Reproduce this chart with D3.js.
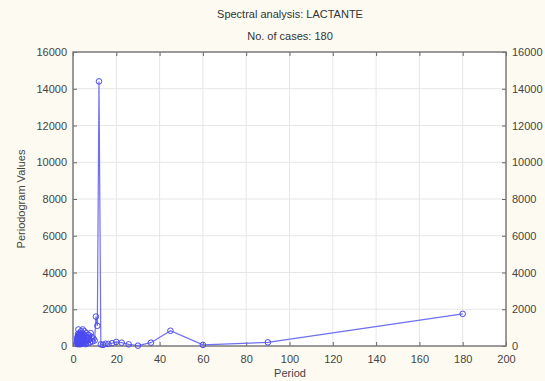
<!DOCTYPE html>
<html><head><meta charset="utf-8">
<script src="https://cdn.jsdelivr.net/npm/d3@7"></script>
<style>
html,body{margin:0;padding:0;background:#fdfbf1;}
svg{display:block;font-family:"Liberation Sans",Arial,sans-serif;}
</style></head>
<body>
<svg id="chart" width="545" height="381"></svg>
<script>
const title = "Spectral analysis: LACTANTE";
const subtitle = "No. of cases: 180";
const xLabel = "Period";
const yLabel = "Periodogram Values";
const xTicks = [0,20,40,60,80,100,120,140,160,180,200];
const yTicks = [0,2000,4000,6000,8000,10000,12000,14000,16000];
const periods = [180,90,60,45,36,30,25.71,22.5,20,18,16.36,15,13.85,12.86,12,11.25,10.59,10,9.47,9,
 8.57,8.18,7.83,7.5,7.2,6.92,6.67,6.43,6.21,6,5.81,5.63,5.45,5.29,5.14,5,4.86,4.74,4.62,4.5,
 4.39,4.29,4.19,4.09,4,3.91,3.83,3.75,3.67,3.6,3.53,3.46,3.4,3.33,3.27,3.21,3.16,3.1,3.05,3,
 2.95,2.9,2.86,2.81,2.77,2.73,2.69,2.65,2.61,2.57,2.54,2.5,2.47,2.43,2.4,2.37,2.34,2.31,2.28,2.25,
 2.22,2.2,2.17,2.14,2.12,2.09,2.07,2.05,2.02,2];
const values = [1750,200,60,830,180,20,90,180,220,150,110,120,60,90,14400,1100,1600,300,400,250,
 500,700,200,350,600,150,450,250,700,300,100,550,200,800,400,250,150,650,300,900,
 450,200,350,600,150,500,250,800,300,100,400,650,200,350,500,150,300,700,250,450,
 100,350,550,200,400,250,600,150,300,450,200,900,350,150,500,250,400,200,650,300,
 150,450,250,350,100,500,200,300,150,400];

const svg = d3.select("#chart");
const L=73, R=506, T=52, B=346;
const x = d3.scaleLinear().domain([0,200]).range([L,R]);
const y = d3.scaleLinear().domain([0,16000]).range([B,T]);

svg.append("rect").attr("x",L).attr("y",T).attr("width",R-L).attr("height",B-T).attr("fill","#ffffff");

// grid
svg.append("g").selectAll("line").data(xTicks.slice(1,-1)).join("line")
 .attr("x1",d=>x(d)).attr("x2",d=>x(d)).attr("y1",T).attr("y2",B)
 .attr("stroke","#e6e6e6").attr("stroke-width",1);
svg.append("g").selectAll("line").data(yTicks.slice(1,-1)).join("line")
 .attr("y1",d=>y(d)).attr("y2",d=>y(d)).attr("x1",L).attr("x2",R)
 .attr("stroke","#e6e6e6").attr("stroke-width",1);

// axes
const tickStyle = g=>{g.select(".domain").remove(); g.selectAll("line").attr("stroke","#666");
 g.selectAll("text").attr("fill","#444").style("font-size","11px").style("font-family","Liberation Sans, Arial, sans-serif");};
svg.append("g").attr("transform",`translate(0,${B})`)
 .call(d3.axisBottom(x).tickValues(xTicks).tickSize(-4).tickPadding(9).tickFormat(d3.format("d"))).call(tickStyle);
svg.append("g").attr("transform",`translate(0,${T})`)
 .call(d3.axisTop(x).tickValues(xTicks).tickSize(-4).tickFormat("")).call(tickStyle);
svg.append("g").attr("transform",`translate(${L},0)`)
 .call(d3.axisLeft(y).tickValues(yTicks).tickSize(-4).tickPadding(6).tickFormat(d3.format("d"))).call(tickStyle);
svg.append("g").attr("transform",`translate(${R},0)`)
 .call(d3.axisRight(y).tickValues(yTicks).tickSize(-4).tickPadding(6).tickFormat(d3.format("d"))).call(tickStyle);

svg.append("rect").attr("x",L).attr("y",T).attr("width",R-L).attr("height",B-T)
 .attr("fill","none").attr("stroke","#7a7a7a").attr("stroke-width",1.5);

const data = periods.map((p,i)=>({p, v: values[i]}));
svg.append("path").datum(data)
 .attr("d", d3.line().x(d=>x(d.p)).y(d=>y(d.v)))
 .attr("fill","none").attr("stroke","#6f6ff2").attr("stroke-width",1.2);
svg.append("g").selectAll("circle").data(data).join("circle")
 .attr("cx",d=>x(d.p)).attr("cy",d=>y(d.v)).attr("r",2.8)
 .attr("fill","none").attr("stroke","#4a4af0").attr("stroke-width",1);

svg.append("text").attr("x",290).attr("y",18).attr("text-anchor","middle")
 .attr("fill","#333").style("font-size","11px").text(title);
svg.append("text").attr("x",290).attr("y",40).attr("text-anchor","middle")
 .attr("fill","#333").style("font-size","11px").text(subtitle);
svg.append("text").attr("x",290).attr("y",377).attr("text-anchor","middle")
 .attr("fill","#444").style("font-size","11px").text(xLabel);
svg.append("text").attr("transform","translate(25,199) rotate(-90)").attr("text-anchor","middle")
 .attr("fill","#444").style("font-size","11px").text(yLabel);
</script>
</body></html>
